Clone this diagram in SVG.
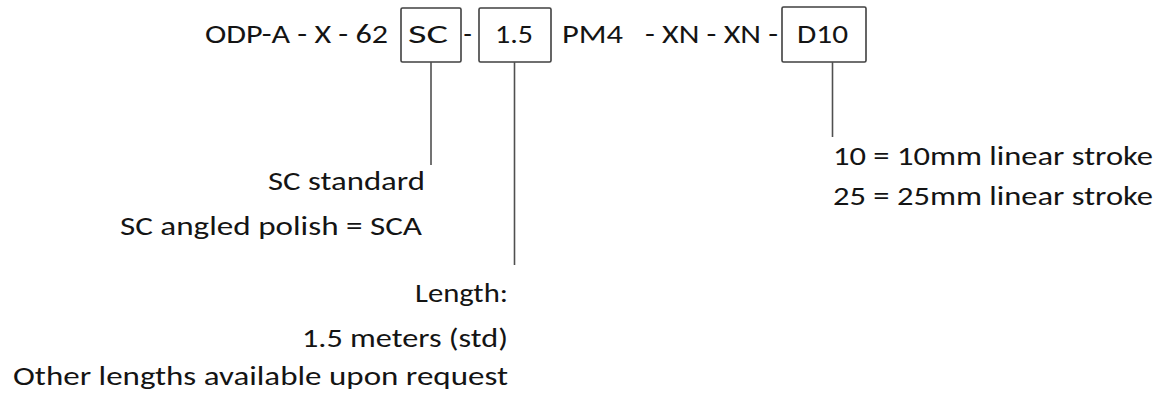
<svg xmlns="http://www.w3.org/2000/svg" width="1169" height="399" viewBox="0 0 1169 399">
<style>
text{font-family:Carlito,Lato,"Open Sans",sans-serif;font-size:27px;fill:#141414}
.box{fill:#fff;stroke:#404040;stroke-width:1.6}
.conn{stroke:#505050;stroke-width:1.6;fill:none}
</style>
<rect width="1169" height="399" fill="#fff"/>
<g id="code">
<text x="205" y="43" textLength="183" lengthAdjust="spacingAndGlyphs">ODP-A - X - 62</text>
<text x="463.5" y="43">-</text>
<text x="562" y="43" textLength="61" lengthAdjust="spacingAndGlyphs">PM4</text>
<text x="645" y="43" textLength="133" lengthAdjust="spacingAndGlyphs">- XN - XN -</text>
</g>
<g id="box-sc">
<rect class="box" x="401" y="8" width="60" height="54" rx="1.5"/>
<text x="408" y="43" textLength="40" lengthAdjust="spacingAndGlyphs">SC</text>
</g>
<g id="box-len">
<rect class="box" x="479" y="8" width="72" height="54" rx="1.5"/>
<text x="495" y="43" textLength="38" lengthAdjust="spacingAndGlyphs">1.5</text>
</g>
<g id="box-d10">
<rect class="box" x="782" y="7" width="84" height="55" rx="1.5"/>
<text x="797" y="43" textLength="51" lengthAdjust="spacingAndGlyphs">D10</text>
</g>
<g id="connectors">
<line class="conn" x1="431" y1="62" x2="431" y2="165"/>
<line class="conn" x1="514.5" y1="62" x2="514.5" y2="265"/>
<line class="conn" x1="832.5" y1="62" x2="832.5" y2="137"/>
</g>
<g id="note-sc">
<text x="268" y="190" textLength="157" lengthAdjust="spacingAndGlyphs">SC standard</text>
<text x="120" y="235" textLength="302" lengthAdjust="spacingAndGlyphs">SC angled polish = SCA</text>
</g>
<g id="note-len">
<text x="415" y="302" textLength="93" lengthAdjust="spacingAndGlyphs">Length:</text>
<text x="302" y="347" textLength="206" lengthAdjust="spacingAndGlyphs">1.5 meters (std)</text>
<text x="13" y="385" textLength="495" lengthAdjust="spacingAndGlyphs">Other lengths available upon request</text>
</g>
<g id="note-d10">
<text x="833" y="165" textLength="320" lengthAdjust="spacingAndGlyphs">10 = 10mm linear stroke</text>
<text x="833" y="205" textLength="320" lengthAdjust="spacingAndGlyphs">25 = 25mm linear stroke</text>
</g>
</svg>
